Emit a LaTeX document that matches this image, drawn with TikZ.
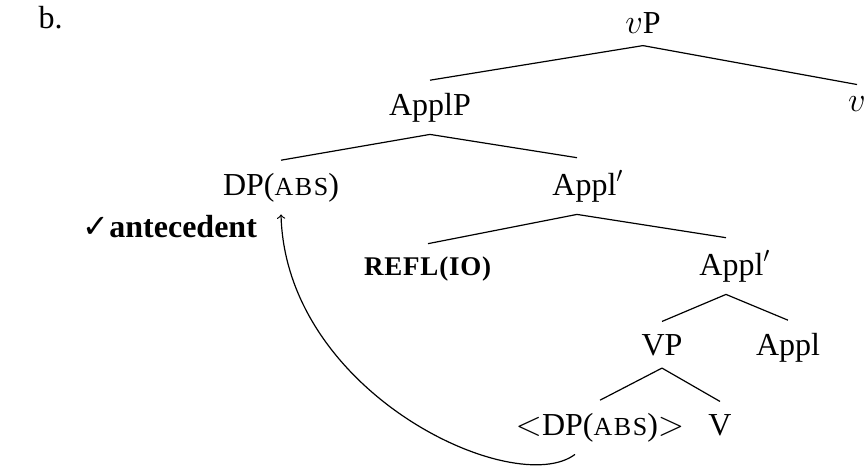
\documentclass[tikz,border=0pt]{standalone}
\usepackage{fontspec}
\setmainfont{Liberation Serif}
\newfontfamily\symfont{DejaVu Sans}
\newcommand{\abs}{{\fontsize{13}{15}\selectfont\addfontfeature{LetterSpace=6}ABS}}
\usetikzlibrary{positioning}
\begin{document}
\begin{tikzpicture}[x=0.5pt,y=-0.5pt,line width=0.6pt,
  every node/.style={inner sep=6pt,anchor=base,font=\fontsize{16}{19}\selectfont}]
\useasboundingbox (0,0) rectangle (864,471);
\node[anchor=base west](label) at (26,28) {b.};

\node(vP) at (643,33) {$v$P};
\node(vhead) at (857,112) {$v$};
\node(ApplP) at (430,115) {ApplP};
\draw (vP.south) -- (ApplP.north);
\draw (vP.south) -- (vhead.north);

\node(dpAbs) at (281,195) {DP(\abs)};
\node(applBar) at (588,195) {Appl$'$};
\draw (ApplP.south) -- (dpAbs.north);
\draw (ApplP.south) -- ([xshift=-5.5pt]applBar.north);

\node[anchor=base west](antecedent) at (70,237) {{\symfont\bfseries ✓}\textbf{antecedent}};

\node(refl) at (428,275) {\textbf{\fontsize{13.5}{16}\selectfont\addfontfeature{LetterSpace=3}REFL(IO)}};
\node(applBarLow) at (735,275) {Appl$'$};
\draw ([xshift=-5.5pt]applBar.south) -- (refl.north);
\draw ([xshift=-5.5pt]applBar.south) -- ([xshift=-4.5pt]applBarLow.north);

\node(VP) at (662,355) {VP};
\node(applHead) at (788,355) {Appl};
\draw ([xshift=-4.5pt]applBarLow.south) -- (VP.north);
\draw ([xshift=-4.5pt]applBarLow.south) -- (applHead.north);

\node(trace) at (600,435) {$<$DP(\abs)$>$};
\node(vHead) at (720,435) {V};
\draw (VP.south) -- (trace.north);
\draw (VP.south) -- (vHead.north);

\draw[->] ([xshift=-12.5pt]trace.south) .. controls +(-60,45) and +(5,180) .. (dpAbs.south);
\end{tikzpicture}
\end{document}
